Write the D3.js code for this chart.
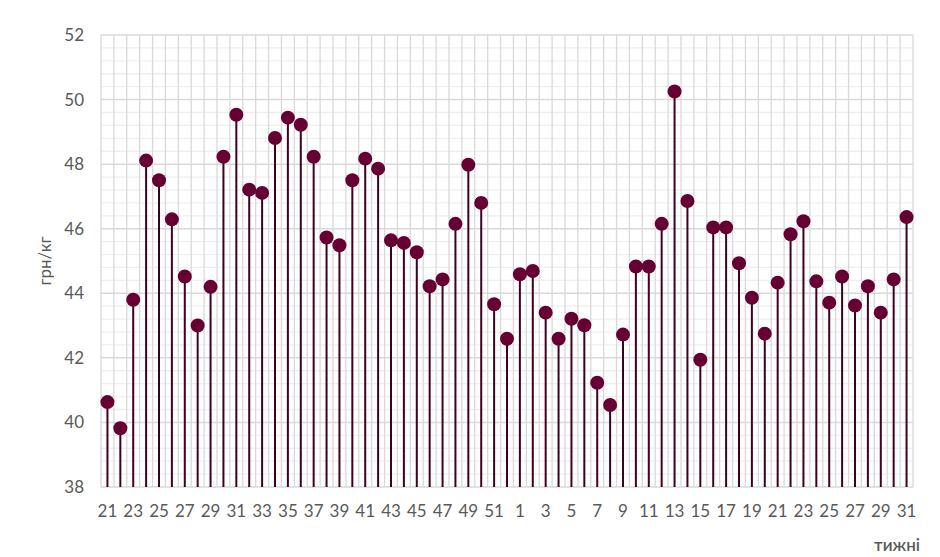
<!DOCTYPE html>
<html>
<head>
<meta charset="utf-8">
<script src="https://cdn.jsdelivr.net/npm/d3@7"></script>
<style>
  html, body { margin: 0; padding: 0; background: #fff; }
  svg { display: block; font-family: Lato, "Open Sans", sans-serif; }
</style>
</head>
<body>
<div id="chart"></div>
<script>
// Weeks: 21..52 of the first year, then 1..31 of the next.
const weeks = [
  21, 22, 23, 24, 25, 26, 27, 28, 29, 30, 31, 32, 33, 34, 35, 36,
  37, 38, 39, 40, 41, 42, 43, 44, 45, 46, 47, 48, 49, 50, 51, 52,
  1, 2, 3, 4, 5, 6, 7, 8, 9, 10, 11, 12, 13, 14, 15, 16,
  17, 18, 19, 20, 21, 22, 23, 24, 25, 26, 27, 28, 29, 30, 31
];

// Price, UAH/kg
const prices = [
  40.63, 39.82, 43.80, 48.11, 47.50, 46.29, 44.52, 43.00, 44.20, 48.23, 49.53, 47.21, 47.11, 48.81, 49.44, 49.22,
  48.23, 45.73, 45.49, 47.50, 48.17, 47.86, 45.64, 45.56, 45.27, 44.22, 44.43, 46.15, 47.98, 46.80, 43.66, 42.59,
  44.59, 44.69, 43.40, 42.59, 43.21, 43.01, 41.23, 40.54, 42.72, 44.83, 44.83, 46.15, 50.25, 46.86, 41.94, 46.04,
  46.04, 44.93, 43.86, 42.75, 44.33, 45.83, 46.23, 44.37, 43.71, 44.52, 43.62, 44.22, 43.40, 44.43, 46.36
];

const yTicks = [38, 40, 42, 44, 46, 48, 50, 52];
const yTitle = 'грн/кг';
const xTitle = 'тижні';

const width = 940, height = 557;
const margin = { top: 35, right: 27, bottom: 70, left: 101 };

const data = weeks.map((w, i) => ({ key: i, week: w, value: prices[i] }));

const svg = d3.select('#chart').append('svg')
  .attr('width', width)
  .attr('height', height);

const x = d3.scaleBand()
  .domain(data.map(d => d.key))
  .range([margin.left, width - margin.right]);

const y = d3.scaleLinear()
  .domain([38, 52])
  .range([height - margin.bottom, margin.top]);

// Minor horizontal gridlines every 0.4
const minor = d3.range(38, 52.001, 0.4).filter(v => Math.abs(v / 2 - Math.round(v / 2)) > 0.01);
svg.append('g')
  .selectAll('line')
  .data(minor)
  .join('line')
  .attr('x1', margin.left)
  .attr('x2', width - margin.right)
  .attr('y1', d => y(d))
  .attr('y2', d => y(d))
  .attr('stroke', '#efefef')
  .attr('stroke-width', 1.3);

// Vertical gridlines at category boundaries
const bounds = data.map(d => x(d.key)).concat([width - margin.right]);
svg.append('g')
  .selectAll('line')
  .data(bounds)
  .join('line')
  .attr('x1', d => d)
  .attr('x2', d => d)
  .attr('y1', y(38))
  .attr('y2', y(52))
  .attr('stroke', '#d9d9d9')
  .attr('stroke-width', 1.3);

// Major horizontal gridlines
svg.append('g')
  .selectAll('line')
  .data(yTicks)
  .join('line')
  .attr('x1', margin.left)
  .attr('x2', width - margin.right)
  .attr('y1', d => y(d))
  .attr('y2', d => y(d))
  .attr('stroke', '#d9d9d9')
  .attr('stroke-width', 1.5);

// Y axis labels
const yAxis = svg.append('g')
  .attr('transform', `translate(${margin.left},0)`)
  .call(d3.axisLeft(y).tickValues(yTicks).tickSize(0).tickPadding(17));
yAxis.select('.domain').remove();
yAxis.selectAll('text')
  .attr('fill', '#595959')
  .attr('font-size', 17)
  .attr('font-family', 'Lato, "Open Sans", sans-serif');

// X axis labels, every other week
const xAxis = svg.append('g')
  .attr('transform', `translate(0,${y(38)})`)
  .call(d3.axisBottom(x)
    .tickValues(data.filter((d, i) => i % 2 === 0).map(d => d.key))
    .tickFormat(k => weeks[k])
    .tickSize(0)
    .tickPadding(18));
xAxis.select('.domain').remove();
xAxis.selectAll('text')
  .attr('fill', '#595959')
  .attr('font-size', 17)
  .attr('font-family', 'Lato, "Open Sans", sans-serif');

// Stems
const cx = d => x(d.key) + x.bandwidth() / 2;
svg.append('g')
  .selectAll('line')
  .data(data)
  .join('line')
  .attr('x1', cx)
  .attr('x2', cx)
  .attr('y1', y(38))
  .attr('y2', d => y(d.value))
  .attr('stroke', '#3f0020')
  .attr('stroke-width', 2);

// Dots
svg.append('g')
  .selectAll('circle')
  .data(data)
  .join('circle')
  .attr('cx', cx)
  .attr('cy', d => y(d.value))
  .attr('r', 7)
  .attr('fill', '#660033');

// Axis titles
svg.append('text')
  .attr('transform', `translate(51,${(y(38) + y(52)) / 2}) rotate(-90)`)
  .attr('text-anchor', 'middle')
  .attr('fill', '#595959')
  .attr('font-size', 17)
  .text(yTitle);

svg.append('text')
  .attr('x', 920)
  .attr('y', 551)
  .attr('text-anchor', 'end')
  .attr('fill', '#595959')
  .attr('font-size', 17)
  .attr('font-weight', 600)
  .text(xTitle);
</script>
</body>
</html>
